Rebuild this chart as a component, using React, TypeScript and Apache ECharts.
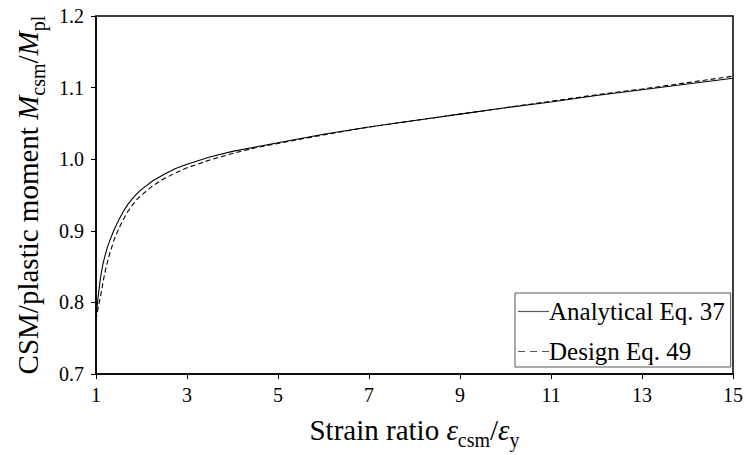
import React, { useEffect, useRef } from "react";
import * as echarts from "echarts";

const strainX = [1, 1.03, 1.06, 1.1, 1.15, 1.2, 1.25, 1.3, 1.4, 1.5, 1.6, 1.7, 1.8, 1.9, 2, 2.25, 2.5, 2.75, 3, 3.5, 4, 4.5, 5, 6, 7, 8, 9, 10, 11, 12, 13, 14, 15];
const analytical = [0.776, 0.798, 0.815, 0.835, 0.853, 0.866, 0.877, 0.886, 0.902, 0.915, 0.927, 0.937, 0.945, 0.952, 0.958, 0.97, 0.979, 0.987, 0.993, 1.003, 1.011, 1.017, 1.023, 1.035, 1.045, 1.054, 1.063, 1.072, 1.08, 1.089, 1.097, 1.105, 1.113];
const design = [0.776, 0.786, 0.797, 0.808, 0.827, 0.843, 0.856, 0.868, 0.888, 0.903, 0.916, 0.927, 0.936, 0.944, 0.95, 0.963, 0.973, 0.981, 0.988, 0.999, 1.008, 1.016, 1.022, 1.034, 1.045, 1.054, 1.063, 1.072, 1.081, 1.09, 1.098, 1.107, 1.116];
const xTicks = [1, 3, 5, 7, 9, 11, 13, 15];
const seriesNames = ["Analytical Eq. 37", "Design Eq. 49"];

const FONT = "Liberation Serif";

export default function App() {
  const ref = useRef<HTMLDivElement>(null);
  useEffect(() => {
    if (!ref.current) return;
    const chart = echarts.init(ref.current, null, { renderer: "svg" });
    const mk = (ys: number[]) => strainX.map((x, i) => [x, ys[i]]);
    const rich = {
      i: { fontFamily: FONT, fontSize: 29, fontStyle: "italic", color: "#000", lineHeight: 40 },
      n: { fontFamily: FONT, fontSize: 29, color: "#000", lineHeight: 40 },
      s: { fontFamily: FONT, fontSize: 20, color: "#000", lineHeight: 20, verticalAlign: "bottom" },
    };
    chart.setOption({
      animation: false,
      backgroundColor: "#ffffff",
      grid: {
        left: 93,
        top: 16,
        right: 12,
        bottom: 78,
        show: true,
        borderColor: "#000",
        borderWidth: 1.5,
        backgroundColor: "transparent",
      },
      legend: {
        orient: "vertical",
        left: 515,
        top: 293,
        itemWidth: 31,
        itemHeight: 1.2,
        itemGap: 15,
        padding: [6, 6, 3, 3],
        borderColor: "#555",
        borderWidth: 1,
        backgroundColor: "#fff",
        textStyle: { fontFamily: FONT, fontSize: 25, color: "#000", padding: [0, 0, 0, -5] },
        data: [
          { name: seriesNames[0], icon: "path://M0,0h31v1.2h-31z" },
          { name: seriesNames[1], icon: "path://M0,0h7v1.2h-7z M12,0h7v1.2h-7z M24,0h7v1.2h-7z" },
        ],
      },
      xAxis: {
        type: "value",
        min: 1,
        max: 15,
        name: "Strain ratio {i|ε}{s|csm}{n|/}{i|ε}{s|y}",
        nameLocation: "middle",
        nameGap: 26,
        nameTextStyle: { fontFamily: FONT, fontSize: 29, color: "#000", lineHeight: 40, rich },
        axisLine: { show: true, lineStyle: { color: "#000", width: 1.5 } },
        axisTick: { show: true, inside: false, length: 5, customValues: xTicks, lineStyle: { color: "#000", width: 1 } },
        axisLabel: {
          customValues: xTicks,
          fontFamily: FONT,
          fontSize: 20,
          color: "#000",
          margin: 11,
          formatter: (v: number) => String(v),
        },
        splitLine: { show: false },
      },
      yAxis: {
        type: "value",
        min: 0.7,
        max: 1.2,
        interval: 0.1,
        name: "CSM/plastic moment {i|M}{s|csm}{n|/}{i|M}{s|pl}",
        nameLocation: "middle",
        nameRotate: 90,
        nameGap: 48,
        nameTextStyle: { fontFamily: FONT, fontSize: 29, color: "#000", lineHeight: 40, rich },
        axisLine: { show: true, lineStyle: { color: "#000", width: 1.5 } },
        axisTick: { show: true, inside: false, length: 5, lineStyle: { color: "#000", width: 1 } },
        axisLabel: {
          fontFamily: FONT,
          fontSize: 20,
          color: "#000",
          margin: 12,
          formatter: (v: number) => v.toFixed(1),
        },
        splitLine: { show: false },
      },
      series: [
        {
          name: seriesNames[0],
          type: "line",
          data: mk(analytical),
          showSymbol: false,
          symbol: "none",
          smooth: false,
          lineStyle: { color: "#000", width: 1.1, type: "solid" },
          itemStyle: { color: "#555" },
        },
        {
          name: seriesNames[1],
          type: "line",
          data: mk(design),
          showSymbol: false,
          symbol: "none",
          smooth: false,
          lineStyle: { color: "#000", width: 1.1, type: [5, 3] },
          itemStyle: { color: "#555" },
        },
      ],
    });
    return () => chart.dispose();
  }, []);
  return <div ref={ref} style={{ position: "fixed", left: 0, top: 0, width: 746, height: 455 }} />;
}
